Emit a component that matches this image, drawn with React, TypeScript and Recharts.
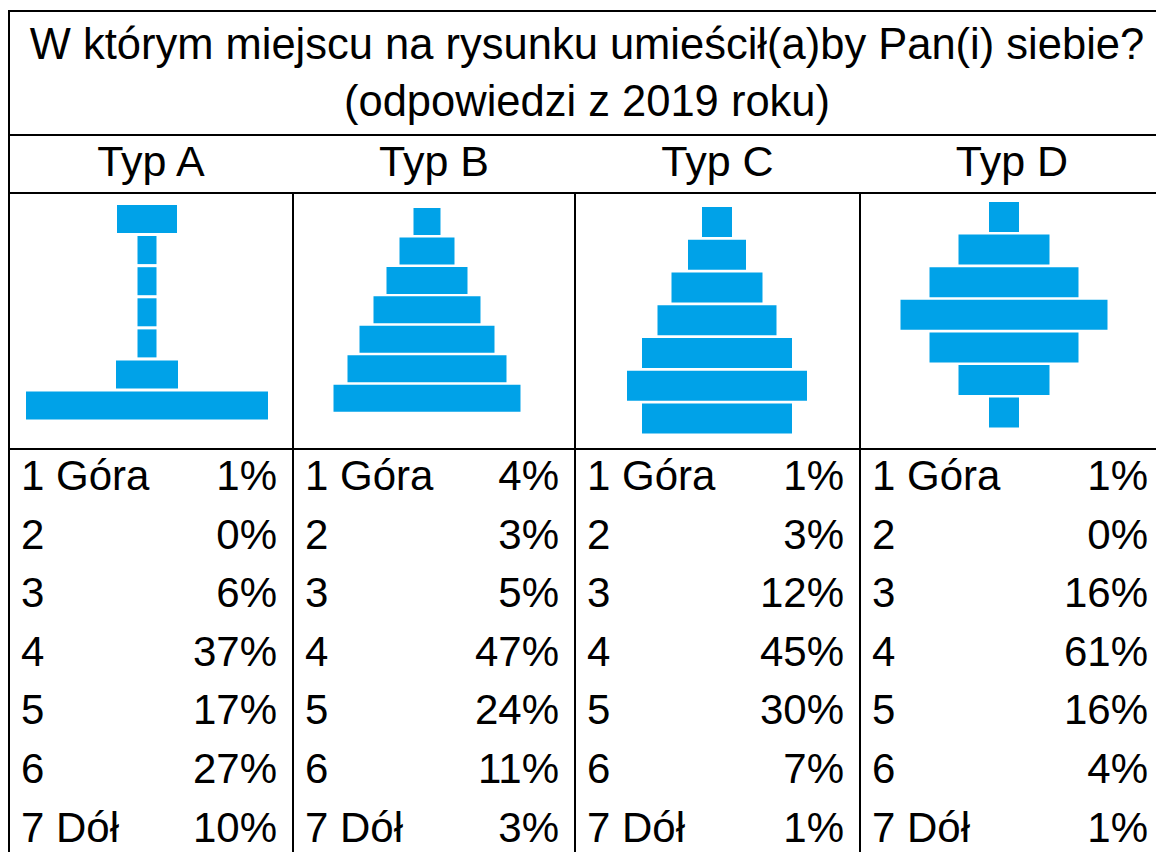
import React from "react";
import { BarChart, Bar, XAxis, YAxis } from "recharts";

const levels = ["1 Góra", "2", "3", "4", "5", "6", "7 Dół"];
const typeNames = ["Typ A", "Typ B", "Typ C", "Typ D"];

// answers in percent, from top (1) to bottom (7)
const sharesA = [1, 0, 6, 37, 17, 27, 10];
const sharesB = [4, 3, 5, 47, 24, 11, 3];
const sharesC = [1, 3, 12, 45, 30, 7, 1];
const sharesD = [1, 0, 16, 61, 16, 4, 1];

// block widths of each pictogram, top to bottom
const shapeA = [60, 19, 19, 19, 19, 62, 242];
const shapeB = [27, 55, 81, 107, 135, 159, 187];
const shapeC = [30, 58, 91, 119, 150, 180, 150];
const shapeD = [30, 91, 149, 207, 149, 91, 30];

const FONT = "'Liberation Sans', Arial, sans-serif";
const BLUE = "#00A2E8";

const cols = [
  { left: 10, right: 292 },
  { left: 294, right: 574 },
  { left: 576, right: 859 },
  { left: 861, right: 1163 },
];

const panels = [
  { shape: shapeA, shares: sharesA, cx: 146.5, top: 203.2, pitch: 31.1, bar: 28 },
  { shape: shapeB, shares: sharesB, cx: 427, top: 207.2, pitch: 29.45, bar: 27 },
  { shape: shapeC, shares: sharesC, cx: 716.8, top: 205.5, pitch: 32.77, bar: 30 },
  { shape: shapeD, shares: sharesD, cx: 1003.7, top: 201.2, pitch: 32.6, bar: 30 },
];

const Pictogram = ({ shape, cx, top, pitch, bar }: any) => {
  const data = levels.map((level, i) => ({ level, span: [-shape[i] / 2, shape[i] / 2] }));
  return (
    <div style={{ position: "absolute", left: cx - 150, top }}>
      <BarChart
        width={300}
        height={pitch * 7}
        data={data}
        layout="vertical"
        margin={{ top: 0, right: 0, bottom: 0, left: 0 }}
      >
        <XAxis type="number" domain={[-150, 150]} hide allowDataOverflow />
        <YAxis type="category" dataKey="level" hide />
        <Bar dataKey="span" fill={BLUE} barSize={bar} isAnimationActive={false} />
      </BarChart>
    </div>
  );
};

export default function App() {
  const rowY = (i: number) => 490 + i * 58.6;
  return (
    <div
      style={{
        position: "absolute",
        left: 0,
        top: 0,
        width: 1156,
        height: 852,
        overflow: "hidden",
        background: "#fff",
        fontFamily: FONT,
      }}
    >
      <svg width={1156} height={852} style={{ position: "absolute", left: 0, top: 0 }}>
        <rect x={8} y={10} width={2} height={842} fill="#000" />
        <rect x={8} y={10} width={1148} height={2} fill="#000" />
        <rect x={8} y={134} width={1148} height={2} fill="#000" />
        <rect x={8} y={192} width={1148} height={2} fill="#000" />
        <rect x={8} y={448} width={1148} height={2} fill="#000" />
        {[292, 574, 859].map((x) => (
          <rect key={x} x={x} y={192} width={2} height={660} fill="#000" />
        ))}
        <text x={587} y={59} fontSize={43.5} textAnchor="middle" fontFamily={FONT}>
          W którym miejscu na rysunku umieścił(a)by Pan(i) siebie?
        </text>
        <text x={587} y={116} fontSize={43.5} textAnchor="middle" fontFamily={FONT}>
          (odpowiedzi z 2019 roku)
        </text>
        {typeNames.map((name, c) => (
          <text
            key={name}
            x={(cols[c].left + cols[c].right) / 2}
            y={176}
            fontSize={43}
            textAnchor="middle"
            fontFamily={FONT}
          >
            {name}
          </text>
        ))}
        {panels.map((p, c) =>
          levels.map((level, i) => (
            <g key={`${c}-${i}`}>
              <text x={cols[c].left + 11} y={rowY(i)} fontSize={42} fontFamily={FONT}>
                {level}
              </text>
              <text
                x={cols[c].right - 15}
                y={rowY(i)}
                fontSize={42}
                textAnchor="end"
                fontFamily={FONT}
              >
                {p.shares[i]}%
              </text>
            </g>
          ))
        )}
      </svg>
      {panels.map((p, c) => (
        <Pictogram key={c} {...p} />
      ))}
    </div>
  );
}
